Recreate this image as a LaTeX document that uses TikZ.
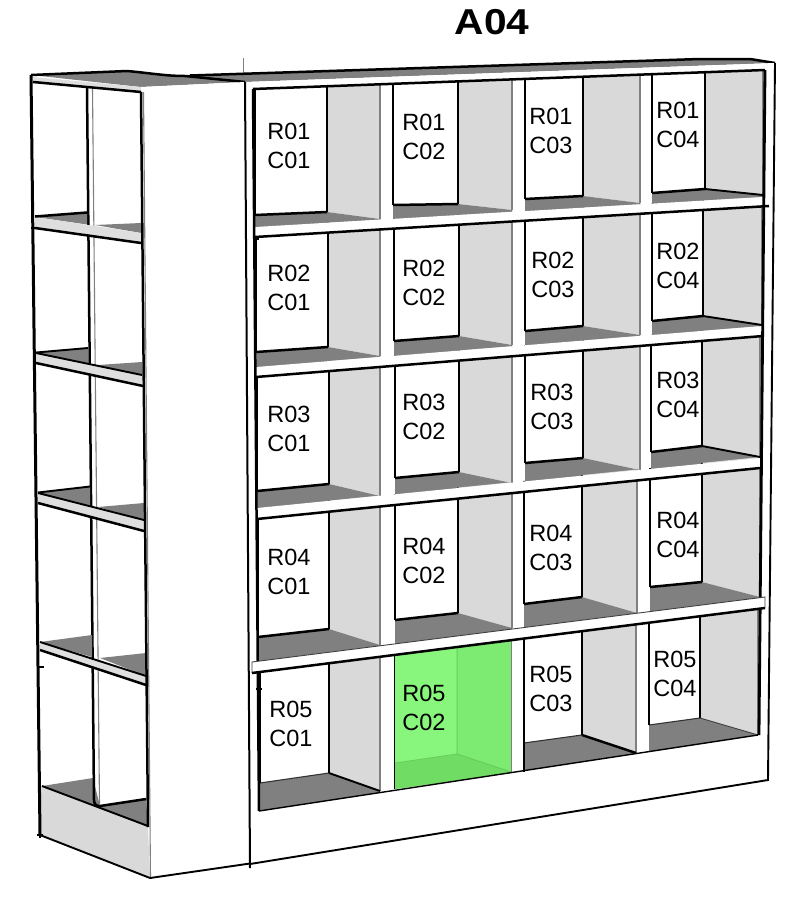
\documentclass[tikz,border=0pt]{standalone}
\usepackage{fontspec}
\setmainfont{Liberation Sans}
\newfontfamily\titlefont[FakeStretch=1.13]{Liberation Sans}
\definecolor{wallgray}{HTML}{D9D9D9}
\definecolor{floorgray}{HTML}{808080}
\definecolor{bandgray}{HTML}{DEDEDE}
\definecolor{greenlight}{HTML}{88F67C}
\definecolor{greenmid}{HTML}{7DEB71}
\definecolor{greenfloor}{HTML}{70DC64}
\definecolor{greenline}{HTML}{68CC5E}
\tikzset{
  heavy/.style={draw=black,line width=2.5pt},
  medium/.style={draw=black,line width=1.9pt},
  back edge/.style={heavy},
  thin edge/.style={draw=black!75,line width=.9pt},
  post edge/.style={draw=floorgray,line width=1.1pt},
  wall/.style={fill=wallgray},
  floorpart/.style={fill=floorgray},
  band/.style={fill=white},
  sideband/.style={fill=bandgray},
  cell label/.style={align=center,font=\fontsize{23.5}{28.8}\selectfont,inner sep=0pt},
  title label/.style={font=\titlefont\bfseries\fontsize{36}{38}\selectfont,inner sep=0pt}
}
% #1 top at x=250, #2 top at x=770, #3 bottom at x=250, #4 bottom at x=770, #5 cells
\newcommand{\shelfrow}[5]{%
  \begin{scope}
    \clip (250,#1) -- (770,#2) -- (770,#4) -- (250,#3) -- cycle;
    \foreach \xl/\yl/\xb/\yb/\xd/\yd in {#5} {
      \fill[wall] (\xb,\yb) -- (\xd,\yd) -- (\xd,\yd-220) -- (\xb,\yb-220) -- cycle;
      \fill[floorpart] (\xl,\yl) -- (\xb,\yb) -- (\xd,\yd) -- (\xd,\yd+40) -- (\xl,\yl+40) -- cycle;
      \draw[back edge] (\xl,\yl) -- (\xb,\yb);
      \draw[heavy] (\xl,\yl) -- (\xl,\yl-220);
      \draw[medium] (\xb,\yb) -- (\xb,\yb-220);
      \draw[post edge] (\xd,\yd) -- (\xd,\yd-220);
    }
  \end{scope}
}
\begin{document}
\begin{tikzpicture}[x=1pt,y=-1pt]
\useasboundingbox (0,0) rectangle (804,903);
\fill[white] (0,0) rectangle (804,903);

% top surfaces
\draw[draw=gray,line width=1pt] (243.5,58) -- (243.5,82);
\fill[floorgray] (31,75) -- (127,71) .. controls (150,73) and (165,76) .. (190,76)
  -- (700,59) -- (750,59) -- (775,63) -- (245,82) -- (141,87) -- cycle;
\draw[heavy] (31,75) -- (127,71) .. controls (150,73) and (165,76) .. (185,76) -- (245,82);
\draw[heavy] (190,75.5) -- (700,59) -- (750,59) -- (775,63);
\fill[white] (245,82) -- (775,63) -- (768,780) -- (250,865) -- cycle;
\fill[white] (141,87) -- (245,82) -- (250,865) -- (150,878) -- cycle;

% left side: base
\fill[wallgray] (40,786) -- (148,827) -- (150,878) -- (40,835) -- cycle;
\fill[floorgray] (42,786) -- (93,778) -- (100,806) -- (146,799) -- (148,827) -- cycle;
\draw[medium] (42,786) -- (148,826);
\draw[heavy] (100,806) -- (146,799);

% left side: middle post
\draw[heavy] (87,88) -- (94,800) .. controls (94,804) and (96,806) .. (100,806);
\draw[post edge] (92.5,88) -- (99.5,805);

% left side: top strip
\fill[sideband] (33,77) -- (141,87) -- (141,92) -- (33,82) -- cycle;
\draw[heavy] (33,82) -- (141,92);

% left side shelves
\fill[floorgray] (35,217) -- (87,213) -- (87,224.5) -- cycle;
\fill[floorgray] (95,225) -- (141,223) -- (141,233) -- cycle;
\fill[sideband] (35,217) -- (141,233) -- (141,243) -- (35,228) -- cycle;
\draw[heavy] (35,216.5) -- (87,212.5);
\draw[heavy] (35,228) -- (141,243);

\fill[floorgray] (36,353) -- (88,348) -- (88,363) -- cycle;
\fill[floorgray] (98,365) -- (142,362) -- (142,375) -- cycle;
\fill[sideband] (36,353) -- (142,375) -- (143,386) -- (36,363) -- cycle;
\draw[medium] (36,352.5) -- (88,348);
\draw[heavy] (36,363) -- (143,386);
\draw[medium] (36,353) -- (142,375);

\fill[floorgray] (38,493) -- (90,487) -- (90,506) -- cycle;
\fill[floorgray] (98,507) -- (144,503) -- (144,520) -- cycle;
\fill[sideband] (38,493) -- (144,520) -- (144,531) -- (38,503) -- cycle;
\draw[medium] (38,492.5) -- (90,486.5);
\draw[heavy] (38,503) -- (144,531);
\draw[medium] (38,493) -- (144,520);

\fill[floorgray] (40,642) -- (92,635) -- (92,657) -- cycle;
\fill[floorgray] (100,658) -- (146,653) -- (146,676) -- cycle;
\fill[sideband] (40,642) -- (146,676) -- (146,685) -- (40,650) -- cycle;
\draw[heavy] (40,650) -- (146,685);
\draw[medium] (40,642) -- (146,676);

% left side verticals
\draw[draw=black,line width=3pt] (31,75) -- (40,835);
\draw[heavy] (141,92) -- (148,827);
\draw[post edge] (143.5,92) -- (150.5,878);
\draw[medium] (40,835) -- (150,878) -- (250,863.5);

% front rows
\shelfrow{89.1}{69.8}{237.3}{205.9}{255/215/327/212/380/219,393/205/458/204/512/210,525/199/583/196/640/203,652/193/705/189/763/195}
\shelfrow{227.3}{196.6}{377.5}{335.4}{256/352/328/347/380/356,394/341/459/336/512/345,525/331/583/326/640/335,652/321/703/316/762/325}
\shelfrow{367.4}{325.4}{519.7}{467}{257/491/329/484/380/496,395/478/459/472/512/483,525/463/583/458/640/470,651/452/702/446/760/457}
\shelfrow{508.7}{456}{673.3}{607.4}{258/637/329/629/380/645,395/620/458/613/512/628,524/604/582/597/637/613,650/587/702/582/760/597}
\begin{scope}[back edge/.style={draw=black!80,line width=1.1pt}]
\shelfrow{662.3}{596.4}{812.4}{733.2}{260/783/329/773/380/791,524/743/582/735/636/753,649/725/700/718/758/735}
\end{scope}

% black floor diagonals
\draw[medium] (705,189) -- (763,195);
\draw[medium] (703,316) -- (762,325);
\draw[medium] (702,446) -- (760,457);
\draw[medium] (329,773) -- (380,791);
\draw[heavy] (582,735) -- (636,753);
\draw[thin edge] (700,718) -- (758,735);

% highlighted cell
\fill[greenlight] (395,655) -- (511,640) -- (511,773) -- (395,789) -- cycle;
\fill[greenmid] (457,648) -- (511,640) -- (511,772) -- (457,754) -- cycle;
\fill[greenfloor] (395,763) -- (457,754) -- (511,772) -- (511,773) -- (395,789) -- cycle;
\draw[draw=greenline,line width=1pt] (457,648) -- (457,754) -- (511,772);
\draw[draw=greenline,line width=.8pt] (395,763) -- (457,754);
\draw[medium] (394.5,655) -- (394.5,789);
\draw[post edge] (511.5,640) -- (511.5,773);
\draw[heavy] (524,640) -- (524,772);

% bottom of the opening
\draw[draw=black,line width=1.4pt] (259,811) -- (758,735);

% front bands
\fill[band] (255,227) -- (764,197) -- (764,205.5) -- (255,237) -- cycle;
\draw[heavy] (255,237) -- (769,206);
\fill[band] (256,367) -- (763,326) -- (763,336) -- (256,377) -- cycle;
\draw[heavy] (256,377) -- (763,336);
\fill[band] (257,508) -- (760,458) -- (760,468) -- (257,519) -- cycle;
\draw[heavy] (257,519) -- (760,468);

% front frame
\draw[draw=black,line width=2pt] (245,82) -- (250,868);
\draw[heavy] (253,89) -- (259,811);
\draw[heavy] (253,89) -- (765,70);
\draw[draw=black,line width=2.8pt] (765,70) -- (759,735);
\draw[medium] (775,63) -- (768,780) -- (250,864);

% lower front band, in front of the frame
\fill[band] (252,662) -- (765,597) -- (765,608) -- (252,673) -- cycle;
\draw[thin edge] (252,673) -- (252,662) -- (765,597) -- (765,608);
\draw[heavy] (252,673) -- (765,608);

% small stubs
\draw[medium] (256,689) -- (262,689);
\draw[medium] (37,667) -- (44,667);
\draw[medium] (37,835) -- (43,835);
\draw[medium] (40,832) -- (40,838);
\draw[medium] (255,239) -- (259,239);
\draw[medium] (31,228) -- (36,228);

% labels
\foreach \r/\c/\x/\y in {
  1/1/289/146,1/2/424/137,1/3/551/131,1/4/678/125,
  2/1/289/288,2/2/424/283,2/3/553/275,2/4/678/266,
  3/1/289/429,3/2/424/417,3/3/552/407,3/4/678/395,
  4/1/289/572,4/2/424/561,4/3/551/548,4/4/678/535,
  5/1/291/724,5/2/424/708,5/3/551/689,5/4/675/674}
  \node[cell label] (cellR\r C\c) at (\x,\y) {R0\r\\C0\c};

\node[title label] (title) at (492,22) {A04};
\end{tikzpicture}
\end{document}
